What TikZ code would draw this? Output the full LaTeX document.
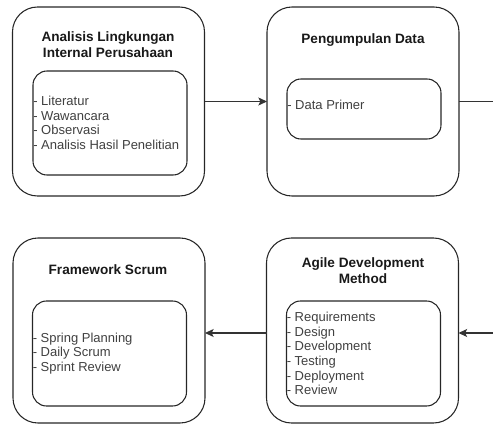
\documentclass[tikz,border=0pt]{standalone}
\usepackage{fontspec}
\setmainfont{Liberation Sans}
\usetikzlibrary{arrows.meta}
\begin{document}
\begin{tikzpicture}[x=0.75pt,y=-0.75pt,
  kotak/.style={draw=black!85, line width=0.8pt, rounded corners=18.75pt, inner sep=0pt, outer sep=0pt, minimum width=144pt, minimum height=141.75pt},
  dalam/.style={draw=black!85, line width=0.8pt, rounded corners=10.5pt, inner sep=0pt, outer sep=0pt, minimum width=115.5pt},
  judul/.style={font=\fontsize{10.2}{12}\selectfont\bfseries, align=center, text=black!90},
  isi/.style={font=\fontsize{9.75}{10.95}\selectfont, align=left, text=black!75, inner sep=0pt, anchor=west},
  panah/.style={draw=black!80, line width=0.8pt, -{Stealth[length=6.5pt,width=6pt,inset=1.5pt]}}]
\useasboundingbox (0,0) rectangle (493,425);
\node[kotak] (b1) at (108.5,101.5) {};
\node[kotak] (b2) at (363,101.5) {};
\node[kotak, minimum height=138.75pt] (b3) at (109,330.5) {};
\node[kotak, minimum height=138.75pt] (b4) at (362.5,330.5) {};
\node[judul] (t1) at (108,45) {Analisis Lingkungan\\Internal Perusahaan};
\node[judul] (t2) at (363,40) {Pengumpulan Data};
\node[judul] (t3) at (108,270) {Framework Scrum};
\node[judul] (t4) at (363,270.5) {Agile Development\\Method};
\node[dalam, minimum height=78pt] (in1) at (110,123) {};
\node[dalam, minimum height=45pt] (in2) at (364,109) {};
\node[dalam, minimum height=78.75pt] (in3) at (109.5,353.5) {};
\node[dalam, minimum height=78.75pt] (in4) at (363.5,353.5) {};
\node[isi] (s1) at (in1.west) {- Literatur\\- Wawancara\\- Observasi\\- Analisis Hasil Penelitian};
\node[isi] (s2) at ([yshift=3pt]in2.west) {- Data Primer};
\node[isi] (s3) at (in3.west) {- Spring Planning\\- Daily Scrum\\- Sprint Review};
\node[isi] (s4) at (in4.west) {- Requirements\\- Design\\- Development\\- Testing\\- Deployment\\- Review};
\coordinate (r1) at (493,101.5);
\coordinate (r2) at (493,333);
\path[panah] (b1.east) -- (b2.west);
\path[draw=black!80, line width=0.8pt] (b2.east) -- (r1);
\path[panah] (r2) -- (b4.east |- r2);
\path[panah] (b4.west |- r2) -- (b3.east |- r2);
\end{tikzpicture}
\end{document}
